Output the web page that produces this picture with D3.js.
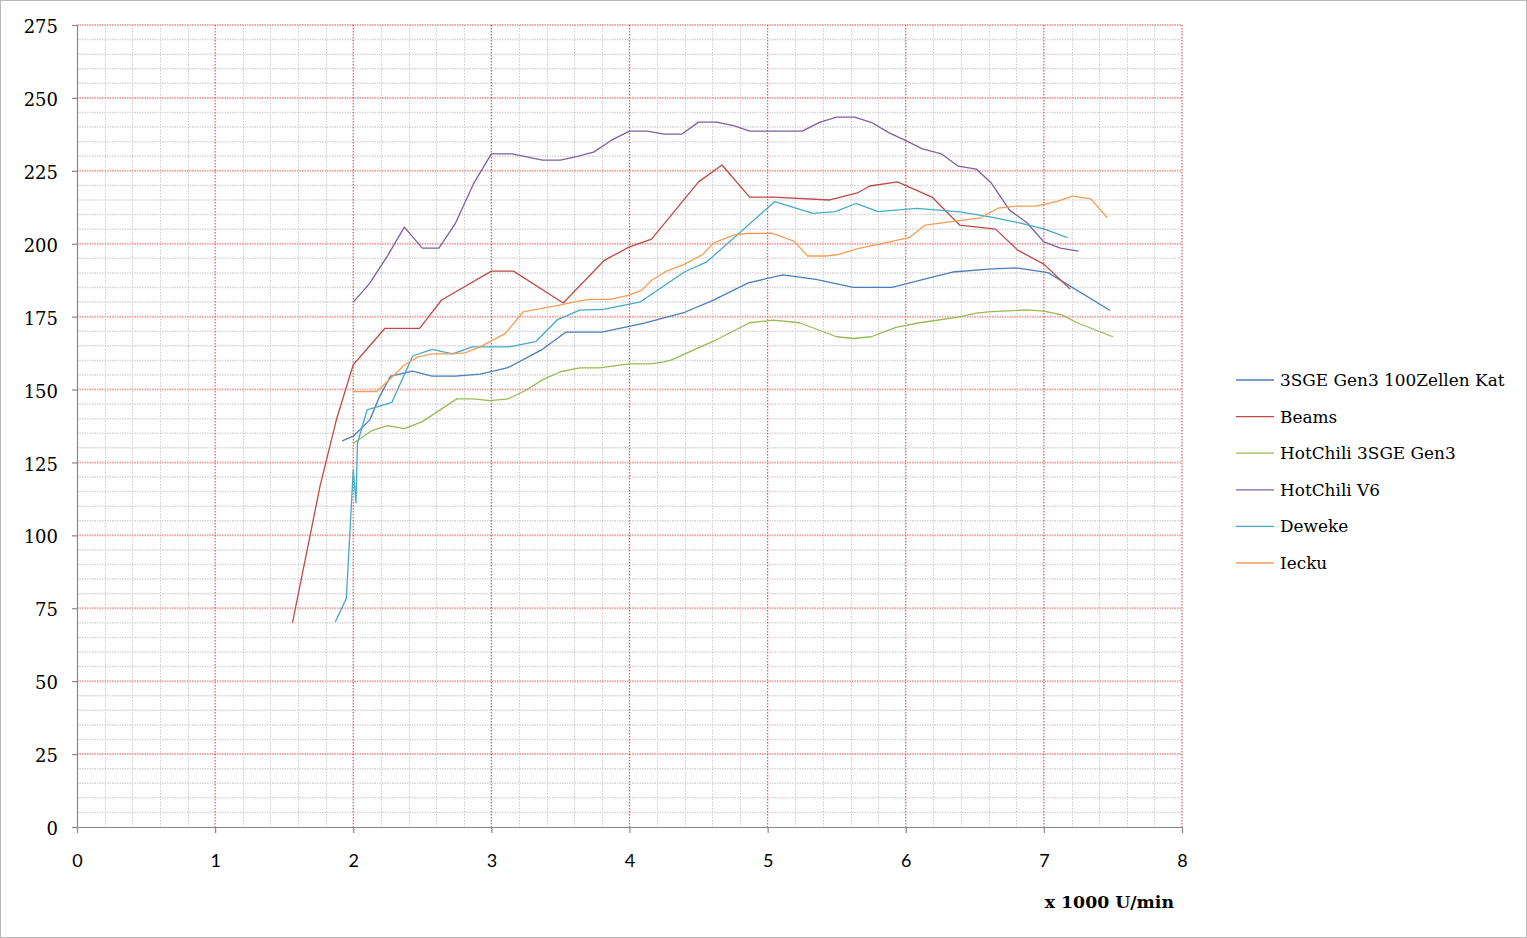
<!DOCTYPE html>
<html>
<head>
<meta charset="utf-8">
<script src="https://cdn.jsdelivr.net/npm/d3@7/dist/d3.min.js"></script>
<style>
  html, body { margin: 0; padding: 0; background: #fff; }
  svg { display: block; }
</style>
</head>
<body>
<svg id="chart" width="1527" height="938"></svg>
<script>
// ---- Data (x in 1000 U/min, y values) ----
const seriesNames = ["3SGE Gen3 100Zellen Kat", "Beams", "HotChili 3SGE Gen3", "HotChili V6", "Deweke", "Iecku"];
const seriesColors = ["#4A7EBB", "#BE4B48", "#98B954", "#7D60A0", "#46AAC5", "#F59D56"];

const kat100 = [
  [1.92,132.4],[2.0,134],[2.12,139.6],[2.19,147.5],[2.27,154.6],[2.43,156.3],[2.57,154.6],[2.74,154.6],
  [2.92,155.3],[3.12,157.5],[3.36,163.5],[3.54,169.7],[3.64,169.7],[3.8,169.7],[4.1,172.7],[4.4,176.5],
  [4.6,180.5],[4.86,186.6],[5.11,189.3],[5.35,187.8],[5.62,185],[5.9,185],[6.2,188.6],[6.34,190.3],
  [6.6,191.3],[6.8,191.7],[7.03,190.1],[7.48,177.1]
];
const beams = [
  [1.56,70],[1.76,117],[1.88,140],[2.0,158.5],[2.23,171],[2.48,171],[2.64,180.7],[3.0,190.6],[3.16,190.6],
  [3.52,179.7],[3.82,194.4],[4.0,198.9],[4.16,201.6],[4.5,221.2],[4.67,227],[4.87,216],[5.04,216],
  [5.45,215],[5.65,217.4],[5.74,219.8],[5.94,221.2],[6.19,216],[6.39,206.4],[6.65,205],[6.81,197.8],
  [7.0,193],[7.19,184.5]
];
const hotchiliGen3 = [
  [2.0,131.5],[2.13,135.8],[2.25,137.6],[2.37,136.6],[2.5,139],[2.75,146.8],[2.87,146.8],[2.99,146.2],
  [3.12,146.8],[3.24,149.5],[3.37,153.3],[3.5,156.1],[3.64,157.4],[3.78,157.4],[4.0,158.8],[4.15,158.8],
  [4.25,159.5],[4.3,160.1],[4.6,166.4],[4.87,172.9],[5.04,173.8],[5.23,172.9],[5.5,168.1],[5.62,167.5],
  [5.75,168.1],[5.93,171.3],[6.1,172.9],[6.38,174.8],[6.51,176.2],[6.62,176.7],[6.88,177.3],[7.0,176.9],
  [7.13,175.6],[7.24,172.9],[7.5,168.1]
];
const hotchiliV6 = [
  [2.0,180],[2.12,186.5],[2.25,196],[2.37,205.7],[2.5,198.5],[2.62,198.5],[2.74,207],[2.87,220.5],
  [3.0,230.8],[3.15,230.8],[3.37,228.7],[3.5,228.7],[3.63,230],[3.74,231.4],[3.87,235.5],[4.0,238.6],
  [4.13,238.6],[4.25,237.6],[4.38,237.6],[4.5,241.7],[4.63,241.7],[4.76,240.4],[4.87,238.6],[5.0,238.6],
  [5.13,238.6],[5.25,238.6],[5.38,241.7],[5.5,243.4],[5.63,243.4],[5.76,241.4],[5.88,238],[5.99,235.6],
  [6.12,232.5],[6.26,230.8],[6.38,226.6],[6.51,225.6],[6.62,220.8],[6.75,211.6],[6.88,207.1],[7.0,200.6],
  [7.12,198.5],[7.25,197.5]
];
const deweke = [
  [1.87,70.3],[1.95,78.4],[2.0,122.4],[2.02,111.2],[2.03,131.5],[2.1,143],[2.28,145.6],[2.43,161.5],
  [2.57,163.8],[2.72,162.2],[2.86,164.6],[3.13,164.6],[3.32,166.4],[3.48,174],[3.64,177.2],[3.81,177.5],
  [4.08,180.1],[4.4,190.4],[4.56,193.8],[5.05,214.4],[5.33,210.4],[5.49,211],[5.64,213.8],[5.8,211],
  [6.08,212.1],[6.39,210.9],[6.61,209.2],[6.83,207.1],[7.0,205.1],[7.17,202.1]
];
const iecku = [
  [2.0,149.3],[2.17,149.3],[2.27,153.8],[2.37,158.4],[2.47,161.2],[2.57,162.2],[2.72,162.2],[2.81,162.6],
  [2.92,164.7],[3.1,169.2],[3.23,176.6],[3.5,179],[3.64,180.4],[3.71,180.9],[3.86,180.9],[3.99,182.3],
  [4.09,184.1],[4.16,187.5],[4.26,190.4],[4.4,193],[4.53,196.3],[4.61,200.3],[4.76,203],[4.85,203.5],
  [5.03,203.6],[5.19,200.9],[5.29,195.8],[5.43,195.8],[5.51,196.3],[5.66,198.4],[5.81,199.9],[6.03,202.2],
  [6.1,204.9],[6.14,206.4],[6.39,207.9],[6.54,208.9],[6.67,212.2],[6.8,212.9],[6.94,212.9],[7.09,214.4],
  [7.21,216.3],[7.34,215.4],[7.46,208.9]
];
const seriesData = [kat100, beams, hotchiliGen3, hotchiliV6, deweke, iecku];

const xTicks = [0,1,2,3,4,5,6,7,8];
const yTicks = [0,25,50,75,100,125,150,175,200,225,250,275];
const xTitle = "x 1000 U/min";

// ---- Layout ----
const W = 1527, H = 938;
const svg = d3.select("#chart");
const x = d3.scaleLinear().domain([0, 8]).range([77, 1182]);
const y = d3.scaleLinear().domain([0, 275]).range([827, 25]);

svg.append("rect").attr("x", 0.5).attr("y", 0.5).attr("width", W - 1).attr("height", H - 1)
  .attr("fill", "#fff").attr("stroke", "#b8b8b8").attr("stroke-width", 1);

const grid = svg.append("g");
// minor horizontal every 5
const yMinor = d3.range(5, 276, 5).filter(v => v % 25 !== 0);
grid.selectAll("line.hmin").data(yMinor).join("line")
  .attr("x1", x(0)).attr("x2", x(8)).attr("y1", d => y(d)).attr("y2", d => y(d))
  .attr("stroke", "#d6d6d6").attr("stroke-width", 1.5).attr("stroke-dasharray", "1.5,1");
// minor vertical every 0.2
const xMinor = d3.range(1, 40).map(i => i * 0.2).filter((v, i) => (i + 1) % 5 !== 0);
grid.selectAll("line.vmin").data(xMinor).join("line")
  .attr("x1", d => Math.round(x(d)) + 0.5).attr("x2", d => Math.round(x(d)) + 0.5)
  .attr("y1", y(275)).attr("y2", y(0))
  .attr("stroke", "#cdcdcd").attr("stroke-width", 1).attr("stroke-dasharray", "1.5,1.5");
// major horizontal
grid.selectAll("line.hmaj").data(yTicks.filter(v => v > 0)).join("line")
  .attr("x1", x(0)).attr("x2", x(8)).attr("y1", d => y(d)).attr("y2", d => y(d))
  .attr("stroke", "#eba5a5").attr("stroke-width", 2).attr("stroke-dasharray", "1.5,1");
// major vertical
grid.selectAll("line.vmaj").data(xTicks.filter(v => v > 0)).join("line")
  .attr("x1", d => x(d)).attr("x2", d => x(d))
  .attr("y1", y(275)).attr("y2", y(0))
  .attr("stroke", "#e05a5a").attr("stroke-width", 1.2).attr("stroke-dasharray", "1.5,1.5");

// axes
const xAxis = d3.axisBottom(x).tickValues(xTicks).tickSize(6).tickFormat(d3.format("d"));
const yAxis = d3.axisLeft(y).tickValues(yTicks).tickSize(5).tickFormat(d3.format("d"));
const gx = svg.append("g").attr("transform", `translate(0,${y(0)})`).call(xAxis);
const gy = svg.append("g").attr("transform", `translate(${x(0)},0)`).call(yAxis);
[gx, gy].forEach(g => {
  g.select(".domain").attr("stroke", "#888").attr("stroke-width", 1.2);
  g.selectAll(".tick line").attr("stroke", "#888").attr("stroke-width", 1.2);
});
gx.select(".domain").attr("d", `M${x(0)},0.5H${x(8)}`);
gy.select(".domain").attr("d", `M0.5,${y(275)}V${y(0)}`);
gx.selectAll(".tick text").attr("font-family", "Lato, 'Noto Sans', sans-serif").attr("font-size", 18)
  .attr("fill", "#000").attr("y", 0).attr("dy", "40px");
gy.selectAll(".tick text").attr("font-family", "'DejaVu Serif', serif").attr("font-size", 18)
  .attr("fill", "#000").attr("x", -19).attr("dy", "0.42em");

// series lines
const line = d3.line().x(d => x(d[0])).y(d => y(d[1]));
svg.append("g").selectAll("path").data(seriesData).join("path")
  .attr("d", d => line(d)).attr("fill", "none")
  .attr("stroke", (d, i) => seriesColors[i]).attr("stroke-width", 1.3)
  .attr("stroke-linejoin", "round");

// axis title
svg.append("text").attr("x", 1174).attr("y", 908).attr("text-anchor", "end")
  .attr("font-family", "'DejaVu Serif', serif").attr("font-weight", "bold").attr("font-size", 17.3)
  .attr("fill", "#000").text(xTitle);

// legend
const leg = svg.append("g");
const legRow = leg.selectAll("g").data(seriesNames).join("g")
  .attr("transform", (d, i) => `translate(1236,${380 + i * 36.6})`);
legRow.append("line").attr("x1", 0).attr("x2", 38).attr("y1", 0).attr("y2", 0)
  .attr("stroke", (d, i) => seriesColors[i]).attr("stroke-width", 1.3);
legRow.append("text").attr("x", 44).attr("y", 0).attr("dy", "0.36em")
  .attr("font-family", "'DejaVu Serif', serif").attr("font-size", 16.9).attr("fill", "#000")
  .text(d => d);
</script>
</body>
</html>
